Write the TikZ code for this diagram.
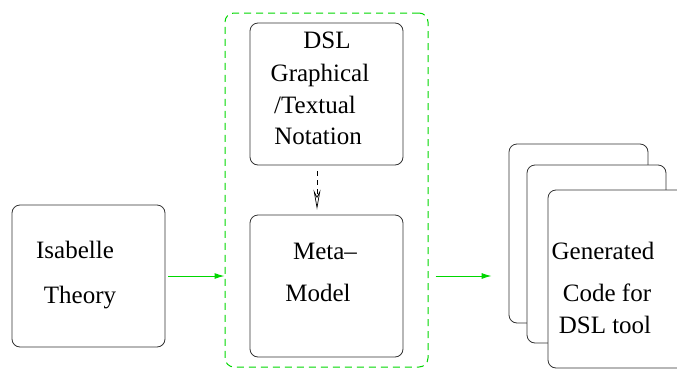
\documentclass[tikz,border=0pt]{standalone}
\usepackage{fontspec}
\setmainfont{Liberation Serif}
\usetikzlibrary{arrows.meta}
\definecolor{grn}{RGB}{0,215,0}
\tikzset{
  box/.style={draw=black!80, line width=0.8pt, rounded corners=8pt, fill=white, inner sep=0pt},
  txt/.style={anchor=base, inner sep=0pt, font=\rmfamily\fontsize{25}{29}\selectfont},
  grnarrow/.style={draw=grn, line width=1pt, -{Latex[length=10pt,width=6pt]}},
  container/.style={draw=grn, line width=1pt, dash pattern=on 7pt off 5pt, rounded corners=9pt, inner sep=0pt}
}
\begin{document}
\begin{tikzpicture}[x=1pt,y=-1pt]
\useasboundingbox (0,0) rectangle (677,370);
% container
\node[container, minimum width=203pt, minimum height=354pt] (cont) at (326.5,190) {};
% boxes
\node[box, minimum width=153pt, minimum height=142pt] (isa) at (88.5,276) {};
\node[box, minimum width=153pt, minimum height=142pt] (dsl) at (326.5,94) {};
\node[box, minimum width=153pt, minimum height=142pt] (meta) at (326.5,286) {};
\node[box, minimum width=139pt, minimum height=179pt] (back) at (578.5,233.5) {};
\node[box, minimum width=139pt, minimum height=178pt] (mid) at (596.5,254) {};
\node[box, minimum width=139pt, minimum height=178pt] (front) at (617.5,279) {};
% texts
\node[txt] (t1) at (75,258) {Isabelle};
\node[txt] (t2) at (80,303) {Theory};
\node[txt] (t3) at (327,48) {DSL};
\node[txt] (t4) at (320,81) {Graphical};
\node[txt] (t5) at (315,113) {/Textual};
\node[txt] (t6) at (318,144) {Notation};
\node[txt] (t7) at (325,259) {Meta–};
\node[txt] (t8) at (318,301) {Model};
\node[txt] (t9) at (603,259) {Generated};
\node[txt] (t10) at (607,301) {Code for};
\node[txt] (t11) at (605,333) {DSL tool};
% connectors
\coordinate (xd) at (317,0);
\draw[grnarrow, shorten <=3pt] (isa.east) -- (cont.west |- isa.east);
\draw[grnarrow, shorten <=7pt, shorten >=17pt] (cont.east |- isa.east) -- (back.west |- isa.east);
\draw[black, line width=0.7pt, dash pattern=on 5pt off 4pt, -{Stealth[open,length=20pt,width=7pt,inset=7pt]}, shorten <=6pt, shorten >=5pt] (dsl.south -| xd) -- (meta.north -| xd);
\end{tikzpicture}
\end{document}
